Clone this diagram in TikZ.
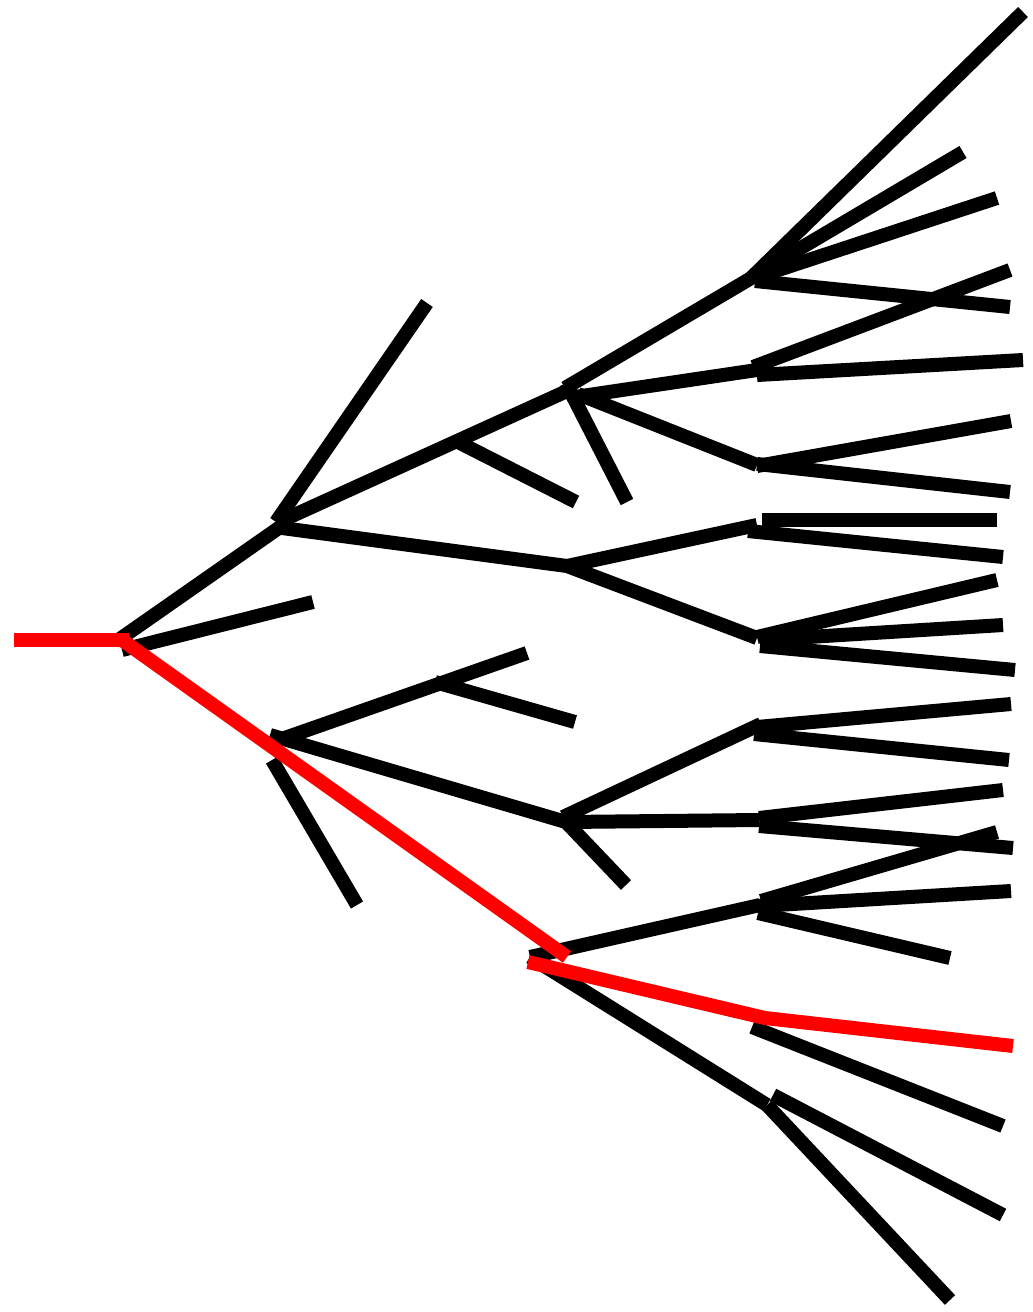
\documentclass[tikz,border=0pt]{standalone}
\begin{document}
\begin{tikzpicture}[x=1pt,y=-1pt,
  br/.style={line width=14pt,line cap=butt,black},
  rd/.style={line width=14pt,line cap=butt,red,line join=miter}]
\useasboundingbox (0,0) rectangle (1033,1312);
% root and first level
\coordinate (rs) at (14,640);
\coordinate (r) at (122,640);
\coordinate (A) at (281,524);
\coordinate (B) at (567,390);
\coordinate (C) at (567,566);
\coordinate (D) at (753,277);
\coordinate (E) at (755,369);
\coordinate (F) at (757,465);
\coordinate (G) at (757,524);
\coordinate (H) at (757,638);
\coordinate (I) at (272,738);
\coordinate (K) at (566,822);
\coordinate (L) at (759,726);
\coordinate (M) at (759,820);
\coordinate (Q) at (530,957);
\coordinate (N) at (760,905);
\coordinate (O) at (767,1105);
\coordinate (P) at (765,1018);
\coordinate (Rq) at (567,957);
% root branches
\draw[br] (117,641) -- (283,525);
\draw[br] (122,650) -- (313,602);
% A
\draw[br] (276,522) -- (427,303);
\draw[br] (281,521) -- (567,391);
\draw[br] (460,443) -- (576,502);
\draw[br] (282,528) -- (C);
% B
\draw[br] (565,388) -- (D);
\draw[br] (566,383) -- (627,502);
\draw[br] (575,397) -- (757,370);
\draw[br] (578,394) -- (F);
% D leaves
\draw[br] (750,279) -- (1023,12);
\draw[br] (757,274) -- (963,152);
\draw[br] (757,277) -- (997,198);
\draw[br] (755,281) -- (1010,307);
% E leaves
\draw[br] (753,367) -- (1010,270);
\draw[br] (757,375) -- (1023,360);
% F leaves
\draw[br] (757,466) -- (1011,421);
\draw[br] (757,464) -- (1010,492);
% C
\draw[br] (C) -- (757,525);
\draw[br] (C) -- (H);
% G leaves
\draw[br] (762,520) -- (997,520);
\draw[br] (748,531) -- (1003,557);
% H leaves
\draw[br] (757,637) -- (997,580);
\draw[br] (760,640) -- (1003,625);
\draw[br] (760,646) -- (1015,670);
% I
\draw[br] (276,741) -- (527,653);
\draw[br] (435,682) -- (575,722);
\draw[br] (270,735) -- (K);
\draw[br] (272,760) -- (357,905);
% K
\draw[br] (563,817) -- (761,724);
\draw[br] (K) -- (M);
\draw[br] (K) -- (626,885);
% L leaves
\draw[br] (757,727) -- (1011,704);
\draw[br] (754,734) -- (1009,760);
% M leaves
\draw[br] (759,818) -- (1003,790);
\draw[br] (759,826) -- (1013,848);
% Q
\draw[br] (Q) -- (N);
\draw[br] (Q) -- (O);
% N leaves
\draw[br] (761,901) -- (997,832);
\draw[br] (759,906) -- (1011,891);
\draw[br] (758,913) -- (950,958);
% P leaf
\draw[br] (752,1027) -- (1003,1126);
% O leaves
\draw[br] (O) -- (950,1300);
\draw[br] (773,1095) -- (1003,1215);
% red path
\draw[rd] (rs) -- (129,640);
\draw[rd] (r) -- (Rq);
\draw[rd] (528,962) -- (P) -- (1013,1046);
\end{tikzpicture}
\end{document}
